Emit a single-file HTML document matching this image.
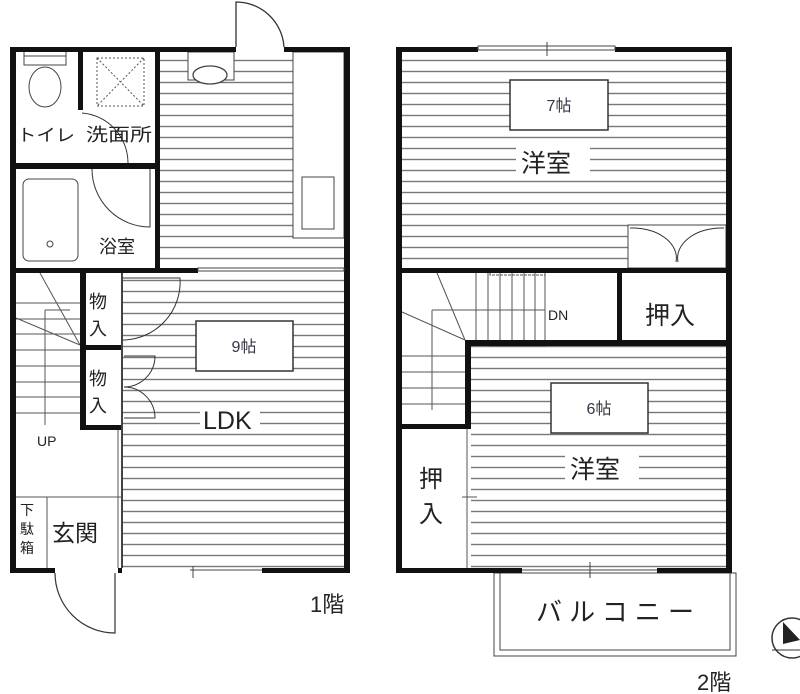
<!DOCTYPE html>
<html><head><meta charset="utf-8"><style>
html,body{margin:0;padding:0;background:#fff;width:800px;height:694px;overflow:hidden}
svg text{font-family:"Liberation Sans","Noto Sans CJK JP",sans-serif;fill:#222}
</style></head><body>
<svg width="800" height="694" viewBox="0 0 800 694" xmlns="http://www.w3.org/2000/svg">
<defs>
<pattern id="h" width="10" height="11" patternUnits="userSpaceOnUse">
<line x1="0" y1="5.5" x2="10" y2="5.5" stroke="#777" stroke-width="1.4"/>
</pattern>
</defs>
<!-- ===== 1F ===== -->
<rect x="160" y="52" width="184" height="216" fill="url(#h)"/>
<rect x="122" y="273" width="222" height="295" fill="url(#h)"/>
<rect x="293" y="52" width="51" height="186" fill="#fff" stroke="#444" stroke-width="1"/>
<rect x="302" y="177" width="32" height="52" fill="#fff" stroke="#444"/>
<rect x="188" y="52" width="46" height="28" fill="#fff" stroke="#444"/>
<ellipse cx="210" cy="75" rx="17" ry="9" fill="#fff" stroke="#444" stroke-width="1.3"/>
<path d="M236 47 V2 A48 48 0 0 1 284 47" fill="none" stroke="#333" stroke-width="1.3"/>
<rect x="24" y="48" width="42" height="10" fill="#fff" stroke="#444"/>
<rect x="24" y="56" width="42" height="9" fill="#fff" stroke="#444"/>
<ellipse cx="45" cy="87" rx="16" ry="20" fill="#fff" stroke="#444"/>
<rect x="97" y="58" width="47" height="48" fill="none" stroke="#555" stroke-dasharray="2,2"/>
<path d="M97 58 L144 106 M144 58 L97 106" stroke="#555" stroke-dasharray="2,2"/>
<rect x="23" y="179" width="55" height="82" rx="6" fill="none" stroke="#444"/>
<circle cx="50" cy="244" r="3" fill="none" stroke="#444"/>
<path d="M82 113 A50 50 0 0 1 128 163" fill="none" stroke="#333"/>
<path d="M92 169 A58 58 0 0 0 150 227 V169" fill="none" stroke="#333"/>
<g stroke="#555" stroke-width="1">
<line x1="16" y1="303" x2="80" y2="303"/><line x1="16" y1="319" x2="80" y2="319"/>
<line x1="16" y1="334" x2="80" y2="334"/><line x1="16" y1="350" x2="80" y2="350"/>
<line x1="16" y1="366" x2="80" y2="366"/><line x1="16" y1="382" x2="80" y2="382"/>
<line x1="16" y1="397" x2="80" y2="397"/><line x1="16" y1="413" x2="80" y2="413"/>
<line x1="45" y1="310" x2="45" y2="425"/>
<line x1="40" y1="273" x2="80" y2="345"/><line x1="16" y1="318" x2="80" y2="345"/>
<line x1="45" y1="310" x2="70" y2="310"/>
<line x1="16" y1="497" x2="122" y2="497"/><line x1="47" y1="497" x2="47" y2="568"/>
<line x1="118" y1="430" x2="118" y2="568"/>
</g>
<path d="M122 278 H180 A58 58 0 0 1 122 340" fill="none" stroke="#333"/>
<path d="M124 356 H155 A31 31 0 0 1 124 387 M124 418 H155 A31 31 0 0 0 124 387" fill="none" stroke="#333"/>
<path d="M55 573 A60 60 0 0 0 115 633 V573" fill="none" stroke="#333" stroke-width="1.2"/>
<line x1="190" y1="570" x2="262" y2="570" stroke="#444"/><line x1="193" y1="566" x2="193" y2="578" stroke="#444"/>
<g fill="#111">
<rect x="10" y="47" width="226" height="5"/><rect x="284" y="47" width="66" height="5"/>
<rect x="10" y="47" width="6" height="526"/><rect x="344" y="47" width="6" height="526"/>
<rect x="10" y="568" width="45" height="5"/><rect x="262" y="568" width="88" height="5"/>
<rect x="118" y="568" width="4" height="5"/>
<rect x="78" y="52" width="5" height="58"/><rect x="155" y="52" width="5" height="216"/>
<rect x="10" y="163" width="150" height="6"/>
<rect x="10" y="268" width="188" height="5"/>
<rect x="80" y="273" width="6" height="157"/><rect x="80" y="345" width="42" height="5"/>
<rect x="80" y="425" width="42" height="5"/>
</g>
<rect x="198" y="268" width="146" height="3" fill="#fff" stroke="#444" stroke-width="1"/>
<line x1="122" y1="273" x2="122" y2="568" stroke="#444" stroke-width="2"/>
<text x="17" y="141" font-size="17" textLength="58" lengthAdjust="spacingAndGlyphs">トイレ</text>
<text x="86" y="141" font-size="18" textLength="66" lengthAdjust="spacingAndGlyphs">洗面所</text>
<text x="99" y="253" font-size="18">浴室</text>
<text x="89" y="308" font-size="18">物</text><text x="89" y="335" font-size="18">入</text>
<text x="89" y="385" font-size="18">物</text><text x="89" y="412" font-size="18">入</text>
<text x="37" y="446" font-size="14">UP</text>
<text x="20" y="515" font-size="14">下</text><text x="20" y="534" font-size="14">駄</text><text x="20" y="553" font-size="14">箱</text>
<text x="52" y="541" font-size="23">玄関</text>
<rect x="196" y="321" width="97" height="50" fill="#fff" stroke="#333" stroke-width="1.5"/>
<text x="244" y="352" font-size="16" text-anchor="middle" style="fill:#334">9帖</text>
<rect x="200" y="406" width="60" height="24" fill="#fff"/>
<text x="203" y="429" font-size="25">LDK</text>
<text x="310" y="612" font-size="22">1階</text>

<!-- ===== 2F ===== -->
<rect x="402" y="52" width="324" height="216" fill="url(#h)"/>
<rect x="471" y="346" width="255" height="222" fill="url(#h)"/>
<rect x="628" y="225" width="98" height="43" fill="#fff" stroke="#444"/>
<path d="M630 228 A44 30 0 0 1 676 262 M724 228 A44 30 0 0 0 678 262" fill="none" stroke="#333"/>
<g stroke="#555" stroke-width="1">
<line x1="476" y1="273" x2="476" y2="342"/><line x1="488" y1="273" x2="488" y2="342"/>
<line x1="500" y1="273" x2="500" y2="342"/><line x1="512" y1="273" x2="512" y2="342"/>
<line x1="524" y1="273" x2="524" y2="342"/><line x1="535" y1="273" x2="535" y2="342"/>
<line x1="545" y1="273" x2="545" y2="342"/>
<line x1="432" y1="310" x2="545" y2="310"/><line x1="432" y1="310" x2="432" y2="410"/>
<line x1="402" y1="356" x2="465" y2="356"/><line x1="402" y1="372" x2="465" y2="372"/>
<line x1="402" y1="388" x2="465" y2="388"/><line x1="402" y1="404" x2="465" y2="404"/>
<line x1="437" y1="273" x2="465" y2="340"/><line x1="402" y1="312" x2="465" y2="340"/>
<line x1="467" y1="428" x2="467" y2="568"/><line x1="462" y1="497" x2="477" y2="497"/>
</g>
<rect x="490" y="272" width="55" height="3" fill="none" stroke="#555" stroke-dasharray="3,1"/>
<rect x="490" y="343" width="55" height="3" fill="none" stroke="#555" stroke-dasharray="3,1"/>
<rect x="494" y="573" width="242" height="83" fill="none" stroke="#444"/>
<rect x="500" y="573" width="230" height="77" fill="none" stroke="#444"/>
<line x1="522" y1="570" x2="657" y2="570" stroke="#444"/><line x1="590" y1="562" x2="590" y2="578" stroke="#444"/>
<g fill="#111">
<rect x="396" y="47" width="82" height="5"/><rect x="615" y="47" width="117" height="5"/>
<rect x="396" y="47" width="6" height="526"/><rect x="726" y="47" width="6" height="526"/>
<rect x="396" y="568" width="126" height="5"/><rect x="657" y="568" width="75" height="5"/>
<rect x="396" y="268" width="336" height="5"/>
<rect x="617" y="273" width="5" height="70"/>
<rect x="465" y="340" width="267" height="6"/>
<rect x="465" y="340" width="6" height="88"/>
<rect x="396" y="424" width="75" height="5"/>
</g>
<rect x="478" y="46" width="137" height="4" fill="#fff" stroke="#444" stroke-width="1"/>
<line x1="547" y1="42" x2="547" y2="56" stroke="#444"/>
<rect x="510" y="80" width="98" height="50" fill="#fff" stroke="#333" stroke-width="1.5"/>
<text x="559" y="111" font-size="16" text-anchor="middle" style="fill:#334">7帖</text>
<rect x="516" y="147" width="74" height="30" fill="#fff"/>
<text x="521" y="172" font-size="25">洋室</text>
<text x="548" y="320" font-size="14">DN</text>
<text x="645" y="324" font-size="25">押入</text>
<rect x="551" y="383" width="97" height="50" fill="#fff" stroke="#333" stroke-width="1.5"/>
<text x="599" y="414" font-size="16" text-anchor="middle" style="fill:#334">6帖</text>
<rect x="565" y="453" width="74" height="30" fill="#fff"/>
<text x="570" y="478" font-size="25">洋室</text>
<text x="419" y="487" font-size="24">押</text><text x="419" y="522" font-size="24">入</text>
<text x="536" y="621" font-size="26" textLength="158">バルコニー</text>
<text x="697" y="690" font-size="22">2階</text>
<circle cx="792" cy="638" r="20" fill="none" stroke="#333" stroke-width="1.5"/>
<path d="M783 622 L800 640 L783 644 Z" fill="#222"/>
<line x1="772" y1="650" x2="812" y2="650" stroke="#333"/>
</svg>
</body></html>
